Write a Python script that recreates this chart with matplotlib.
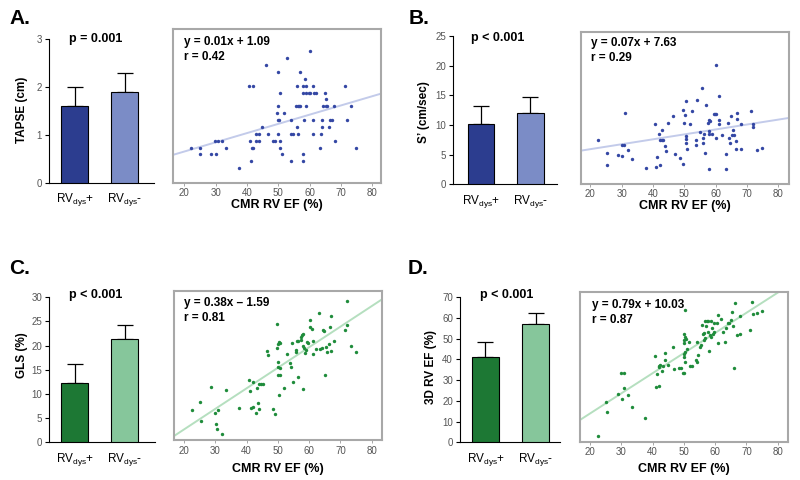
import matplotlib
matplotlib.use("Agg")
import matplotlib.pyplot as plt
from matplotlib import font_manager as fm

names = {f.name for f in fm.fontManager.ttflist}
NARROW = 'Liberation Sans Narrow' if 'Liberation Sans Narrow' in names else 'Liberation Sans'
plt.rcParams['font.family'] = ['Liberation Sans', 'DejaVu Sans']
plt.rcParams['mathtext.fontset'] = 'custom'
plt.rcParams['mathtext.rm'] = 'Liberation Sans'

W, H = 800, 480

# ---------------- data ----------------
groups = [r'RV$_{\mathregular{dys}}$+', r'RV$_{\mathregular{dys}}$-']

tapse_mean = [1.6, 1.9]
tapse_err = [0.4, 0.4]
s_mean = [10.1, 12.0]
s_err = [3.1, 2.7]
gls_mean = [12.3, 21.4]
gls_err = [3.8, 2.9]
rvef_mean = [41.0, 57.0]
rvef_err = [7.4, 5.6]

ef_a = [22.3, 25.0, 25.0, 28.5, 30.1, 29.8, 30.9, 32.0, 33.4, 37.6, 40.7, 42.0, 41.0, 41.3,
        41.7, 42.0, 42.9, 44.0, 42.9, 44.0, 44.9, 46.2, 46.8, 48.4, 49.0, 49.8, 49.5, 49.9,
        50.0, 50.4, 50.0, 50.5, 50.6, 50.6, 51.1, 51.9, 52.7, 54.0, 54.0, 54.8, 54.0, 56.0,
        55.6, 56.2, 56.6, 57.1, 56.1, 56.4, 57.1, 57.8, 57.8, 58.0, 59.0, 58.0, 59.0, 58.4,
        58.2, 58.9, 59.7, 60.1, 60.0, 61.0, 61.0, 61.0, 61.4, 62.0, 63.2, 63.6, 63.9, 63.9,
        64.4, 65.1, 64.9, 65.2, 65.5, 66.2, 66.5, 67.0, 67.9, 68.0, 71.3, 71.9, 73.1, 74.8]
tapse_a = [1.3, 1.3, 1.2, 1.2, 1.2, 1.4, 1.4, 1.4, 1.3, 1.0, 2.2, 2.2, 1.4, 1.1,
           1.3, 1.3, 1.5, 1.5, 1.4, 1.4, 1.6, 2.5, 1.5, 1.4, 1.4, 2.4, 1.8, 1.9,
           1.7, 1.7, 1.5, 2.1, 1.4, 1.3, 1.2, 1.8, 2.6, 1.7, 1.5, 1.5, 1.1, 2.2,
           1.9, 1.9, 1.9, 1.9, 1.6, 1.5, 2.4, 1.2, 1.1, 2.1, 2.1, 2.2, 2.2, 2.3,
           1.7, 1.9, 2.1, 2.1, 2.7, 2.2, 1.7, 1.5, 2.1, 2.1, 1.3, 1.5, 1.7, 1.6,
           1.9, 1.9, 2.1, 2.0, 1.9, 1.6, 1.7, 1.7, 1.9, 1.4, 2.2, 1.7, 1.9, 1.3]

ef_b = [22.5, 25.2, 25.3, 28.8, 30.2, 30.7, 30.2, 31.0, 32.1, 33.4, 37.8, 40.8, 41.3, 41.0,
        42.1, 41.9, 42.1, 42.8, 43.2, 43.0, 44.0, 44.1, 44.9, 46.3, 46.9, 48.6, 49.6, 49.9,
        50.7, 50.2, 50.5, 50.5, 50.5, 50.9, 49.6, 52.6, 52.0, 54.1, 53.7, 53.9, 55.0, 55.8,
        56.0, 56.0, 56.4, 56.6, 57.1, 57.5, 57.9, 58.0, 58.3, 58.0, 57.9, 59.0, 59.4, 59.8,
        60.1, 60.0, 60.3, 61.0, 61.0, 61.1, 62.2, 63.3, 63.5, 64.0, 64.2, 64.6, 65.1, 65.6,
        65.8, 65.4, 66.5, 66.7, 66.9, 67.0, 68.1, 68.2, 71.3, 72.0, 72.0, 73.3, 75.0]
s_b = [7.4, 5.2, 3.3, 4.9, 6.6, 6.6, 4.7, 12.1, 5.8, 4.3, 2.7, 10.2, 4.6, 2.9,
       3.3, 8.5, 7.4, 7.4, 7.4, 9.2, 6.4, 5.7, 10.3, 11.6, 5.1, 4.4, 12.5, 10.4,
       14.0, 11.7, 8.1, 7.7, 7.0, 6.0, 3.5, 12.3, 10.2, 14.2, 7.5, 6.7, 8.9, 16.2,
       7.8, 6.9, 8.5, 5.3, 13.4, 10.4, 8.5, 10.9, 10.7, 9.0, 2.6, 8.5, 11.9, 11.9,
       11.9, 20.1, 7.8, 10.9, 10.2, 14.9, 8.3, 2.6, 5.1, 10.4, 7.8, 7.0, 11.6, 9.2,
       8.4, 8.4, 7.3, 6.0, 12.1, 11.0, 10.2, 5.9, 12.3, 10.1, 9.7, 5.8, 6.2]

ef_c = [22.5, 25.1, 25.3, 28.7, 29.9, 30.1, 30.4, 31.0, 32.0, 33.4, 37.7, 40.9, 41.1, 41.4,
        42.0, 42.0, 43.0, 43.2, 43.8, 43.9, 44.1, 44.5, 45.1, 46.4, 47.0, 48.6, 49.0, 49.8,
        49.6, 50.0, 50.4, 50.8, 50.0, 50.2, 50.6, 50.2, 50.6, 50.4, 52.1, 52.8, 53.9, 54.2,
        54.4, 55.0, 55.8, 55.9, 56.0, 56.4, 56.5, 57.4, 57.6, 57.9, 57.5, 58.0, 58.3, 58.1,
        58.7, 59.0, 59.3, 59.7, 60.2, 60.2, 60.8, 61.1, 61.3, 62.2, 63.3, 63.5, 64.0, 64.3,
        64.9, 65.1, 65.4, 65.8, 66.5, 66.8, 67.0, 67.1, 68.1, 71.5, 72.0, 72.0, 73.4, 75.0]
gls_c = [6.8, 8.4, 4.4, 11.4, 6.1, 3.7, 2.7, 6.8, 1.7, 10.8, 7.1, 13.0, 10.6, 7.1,
         7.3, 12.4, 6.1, 11.2, 8.2, 7.0, 12.0, 12.0, 12.0, 19.0, 18.2, 7.0, 5.9, 24.6,
         19.6, 20.3, 20.8, 20.6, 16.6, 15.6, 15.3, 13.9, 14.0, 9.9, 11.3, 18.4, 16.4, 15.7,
         20.6, 12.5, 19.2, 18.8, 21.1, 21.0, 13.5, 21.8, 22.2, 22.5, 21.2, 20.0, 19.6, 11.1,
         18.6, 19.2, 20.8, 20.6, 25.3, 24.0, 23.5, 18.4, 21.0, 19.3, 26.8, 19.3, 19.6, 23.2,
         23.0, 13.9, 19.7, 18.7, 20.4, 23.8, 26.1, 19.0, 20.9, 23.3, 29.3, 24.4, 19.9, 18.7]

ef_d = [22.5, 25.1, 25.3, 28.8, 29.9, 31.0, 30.2, 30.8, 32.1, 33.4, 37.7, 40.9, 41.1, 41.4,
        42.0, 42.2, 42.4, 42.2, 43.0, 43.2, 43.9, 44.1, 45.0, 46.4, 47.0, 48.6, 49.1, 50.5,
        49.6, 50.2, 50.3, 50.6, 50.2, 50.0, 50.3, 50.1, 50.2, 50.4, 50.0, 51.0, 51.8, 52.1,
        52.6, 53.9, 54.2, 54.6, 54.2, 55.3, 55.5, 55.8, 56.0, 56.3, 56.6, 56.8, 56.9, 57.3,
        57.6, 57.1, 57.6, 58.1, 58.5, 58.7, 58.7, 59.0, 59.4, 59.7, 59.7, 60.6, 61.0, 61.0,
        61.9, 62.4, 63.3, 63.5, 64.0, 64.5, 65.1, 65.3, 65.6, 65.9, 66.5, 67.0, 68.1, 68.1,
        71.2, 71.8, 72.0, 73.3, 75.0]
rvef_d = [3.2, 19.6, 14.6, 23.2, 33.6, 33.3, 21.1, 26.4, 22.8, 17.2, 11.9, 41.7, 26.5, 32.8,
          37.0, 36.5, 37.3, 27.3, 34.4, 36.8, 39.7, 43.3, 37.3, 45.8, 35.2, 36.0, 36.0, 63.9,
          33.3, 52.1, 51.0, 49.9, 49.4, 47.8, 43.8, 42.5, 41.3, 38.9, 33.3, 45.0, 48.3, 36.9,
          36.8, 39.7, 38.9, 42.2, 48.3, 46.1, 47.0, 56.8, 52.1, 52.6, 49.4, 50.2, 58.5, 58.5,
          58.5, 56.1, 53.4, 44.1, 51.8, 51.0, 58.5, 55.0, 52.1, 53.4, 57.4, 57.4, 61.5, 47.8,
          59.4, 53.4, 48.6, 55.3, 57.4, 57.4, 59.0, 62.8, 56.1, 36.0, 67.1, 51.8, 52.1, 61.1,
          54.2, 67.9, 61.8, 62.6, 63.5]

# regression lines as drawn (slope, intercept)
fit_a = [0.0134, 0.975]
fit_b = [0.083, 4.27]
fit_c = [0.426, -5.85]
fit_d = [0.972, -5.53]

eq_texts = ['y = 0.01x + 1.09\nr = 0.42', 'y = 0.07x + 7.63\nr = 0.29',
            'y = 0.38x \u2013 1.59\nr = 0.81', 'y = 0.79x + 10.03\nr = 0.87']
p_texts = ['p = 0.001', 'p < 0.001', 'p < 0.001', 'p < 0.001']
ylabels = ['TAPSE (cm)', "S\u2019 (cm/sec)", 'GLS (%)', '3D RV EF (%)']
letters = ['A.', 'B.', 'C.', 'D.']

BLUE_D, BLUE_L, BLUE_PT, BLUE_LN = '#2c3d8f', '#7b8cc6', '#3447a4', '#c3cbea'
GRN_D, GRN_L, GRN_PT, GRN_LN = '#1d7834', '#86c69b', '#1f8c3b', '#b5dfbf'

fig = plt.figure(figsize=(8, 4.8), dpi=100)


def rect(l, t, r, b):
    return [l / W, 1 - b / H, (r - l) / W, (b - t) / H]


def ftext(x, y, s, **kw):
    fig.text(x / W, 1 - y / H, s, **kw)


panels = [
    dict(bar=(49, 39, 154, 183), bxl=(-0.51, 1.59), byl=(0, 3), yt=[0, 1, 2, 3],
         sc=(173.3, 29.3, 381, 182.7), sxl=(16.5, 82.8), syl=(0.79, 3.02),
         means=tapse_mean, errs=tapse_err, ef=ef_a, val=tapse_a, fit=fit_a,
         cols=(BLUE_D, BLUE_L, BLUE_PT, BLUE_LN), letter=(9, 19), p=(96, 39),
         yl=(22, 110), eq=(184, 36), xlab=205),
    dict(bar=(453.3, 36, 557, 184.3), bxl=(-0.56, 1.54), byl=(0, 25), yt=[0, 5, 10, 15, 20, 25],
         sc=(580.7, 32, 789, 183.7), sxl=(16.9, 83.5), syl=(0.1, 25.7),
         means=s_mean, errs=s_err, ef=ef_b, val=s_b, fit=fit_b,
         cols=(BLUE_D, BLUE_L, BLUE_PT, BLUE_LN), letter=(409, 19), p=(498, 38),
         yl=(424, 112), eq=(591, 37), xlab=206),
    dict(bar=(49, 297.3, 155, 442.3), bxl=(-0.51, 1.61), byl=(0, 30), yt=[0, 5, 10, 15, 20, 25, 30],
         sc=(174, 291.3, 381.7, 440), sxl=(16.8, 83.2), syl=(0.48, 31.3),
         means=gls_mean, errs=gls_err, ef=ef_c, val=gls_c, fit=fit_c,
         cols=(GRN_D, GRN_L, GRN_PT, GRN_LN), letter=(9, 268), p=(96, 295),
         yl=(22, 355), eq=(184, 297), xlab=469),
    dict(bar=(460, 297.3, 560, 442.3), bxl=(-0.51, 1.49), byl=(0, 70), yt=[0, 10, 20, 30, 40, 50, 60, 70],
         sc=(580, 291.7, 787.7, 441.7), sxl=(16.8, 83.2), syl=(0.3, 72.7),
         means=rvef_mean, errs=rvef_err, ef=ef_d, val=rvef_d, fit=fit_d,
         cols=(GRN_D, GRN_L, GRN_PT, GRN_LN), letter=(408, 268), p=(507, 295),
         yl=(431, 367), eq=(592, 299), xlab=469),
]

for i, P in enumerate(panels):
    cd, cl, cp, cln = P['cols']
    # ---- bar chart ----
    ax = fig.add_axes(rect(*P['bar']))
    xs = [0, 1]
    ax.bar(xs, P['means'], width=0.54, color=[cd, cl], edgecolor='black', linewidth=0.8, zorder=3)
    ax.errorbar(xs, P['means'], yerr=[[0, 0], P['errs']], fmt='none', ecolor='black',
                elinewidth=0.9, capsize=5.5, capthick=0.9, zorder=2)
    ax.set_xlim(*P['bxl'])
    ax.set_ylim(*P['byl'])
    ax.set_yticks(P['yt'])
    ax.set_xticks(xs)
    ax.set_xticklabels(groups, fontsize=8.5)
    for s in ('top', 'right'):
        ax.spines[s].set_visible(False)
    for s in ('left', 'bottom'):
        ax.spines[s].set_linewidth(0.8)
    ax.tick_params(axis='y', direction='out', length=3, width=0.8, labelsize=7,
                   labelcolor='#555555', pad=2)
    ax.tick_params(axis='x', length=0, pad=6)
    ax.set_facecolor('none')

    # ---- scatter ----
    sx = fig.add_axes(rect(*P['sc']))
    sx.scatter(P['ef'], P['val'], s=6, marker='o', color=cp, linewidths=0, zorder=3)
    sx.set_xlim(*P['sxl'])
    sx.set_ylim(*P['syl'])
    m, b = P['fit']
    x0, x1 = P['sxl']
    sx.plot([x0, x1], [m * x0 + b, m * x1 + b], color=cln, lw=1.4, zorder=2)
    sx.set_xticks([20, 30, 40, 50, 60, 70, 80])
    sx.set_yticks([])
    sx.tick_params(axis='x', length=2, width=0.6, color='#999999', labelsize=7,
                   labelcolor='#555555', pad=2)
    for s in sx.spines.values():
        s.set_color('#a8a8a8')
        s.set_linewidth(1.5)

    # ---- texts ----
    ftext(P['letter'][0], P['letter'][1], letters[i], fontsize=15, fontweight='bold',
          ha='left', va='center')
    ftext(P['p'][0], P['p'][1], p_texts[i], fontsize=9, fontweight='bold',
          family=[NARROW, 'DejaVu Sans'], ha='center', va='center')
    ftext(P['yl'][0], P['yl'][1], ylabels[i], fontsize=8.5, fontweight='bold',
          family=[NARROW, 'DejaVu Sans'], ha='center', va='center', rotation=90)
    ftext(P['eq'][0], P['eq'][1], eq_texts[i], fontsize=8.5, fontweight='bold',
          family=[NARROW, 'DejaVu Sans'], ha='left', va='top', linespacing=1.3)
    cx = (P['sc'][0] + P['sc'][2]) / 2
    ftext(cx, P['xlab'], 'CMR RV EF (%)', fontsize=9, fontweight='bold',
          family=[NARROW, 'DejaVu Sans'], ha='center', va='center')

fig.savefig('out.png', dpi=100)
